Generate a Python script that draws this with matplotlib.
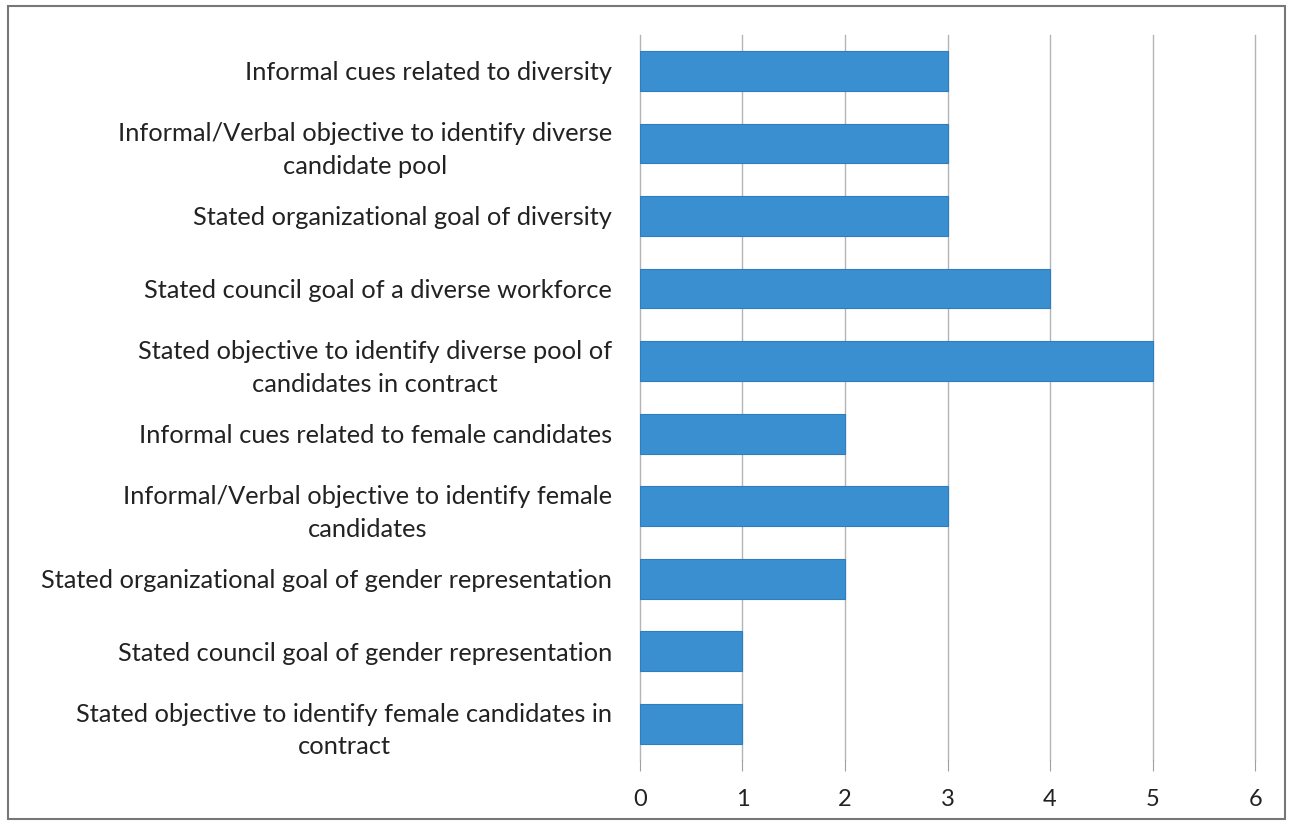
import matplotlib.pyplot as plt
from matplotlib.patches import Rectangle

categories = [
    "Informal cues related to diversity",
    "Informal/Verbal objective to identify diverse\ncandidate pool",
    "Stated organizational goal of diversity",
    "Stated council goal of a diverse workforce",
    "Stated objective to identify diverse pool of\ncandidates in contract",
    "Informal cues related to female candidates",
    "Informal/Verbal objective to identify female\ncandidates",
    "Stated organizational goal of gender representation",
    "Stated council goal of gender representation",
    "Stated objective to identify female candidates in\ncontract",
]
values = [3, 3, 3, 4, 5, 2, 3, 2, 1, 1]
x_ticks = [0, 1, 2, 3, 4, 5, 6]

plt.rcParams['font.family'] = ['Lato', 'DejaVu Sans']

fig = plt.figure(figsize=(12.9, 8.26), dpi=100)
ax = fig.add_axes([0.496, 0.080, 0.477, 0.878])

pos = list(range(len(categories)))
ax.barh(pos, values, height=0.55, color='#3A8FD0', edgecolor='#2E7DBE', linewidth=0.8, zorder=3)
ax.set_ylim(len(categories) - 0.5, -0.5)
ax.set_xlim(0, 6)
ax.set_xticks(x_ticks)
ax.set_xticklabels([str(t) for t in x_ticks], fontsize=17, color='#222222')
ax.set_yticks(pos)
ax.set_yticklabels(categories, fontsize=18.3, color='#222222',
                   multialignment='center', linespacing=1.5)
ax.tick_params(axis='y', length=0, pad=20)
ax.tick_params(axis='x', length=8, color='#a0a0a0', pad=13)
ax.grid(axis='x', color='#b4b4b4', linewidth=1, zorder=0)
for line in ax.get_xgridlines():
    line.set_clip_on(False)
for s in ax.spines.values():
    s.set_visible(False)

# outer frame
fig.patches.append(Rectangle((0.006, 0.009), 0.990, 0.984, transform=fig.transFigure,
                             fill=False, edgecolor='#777777', linewidth=1.5))

fig.savefig('out.png', dpi=100)
